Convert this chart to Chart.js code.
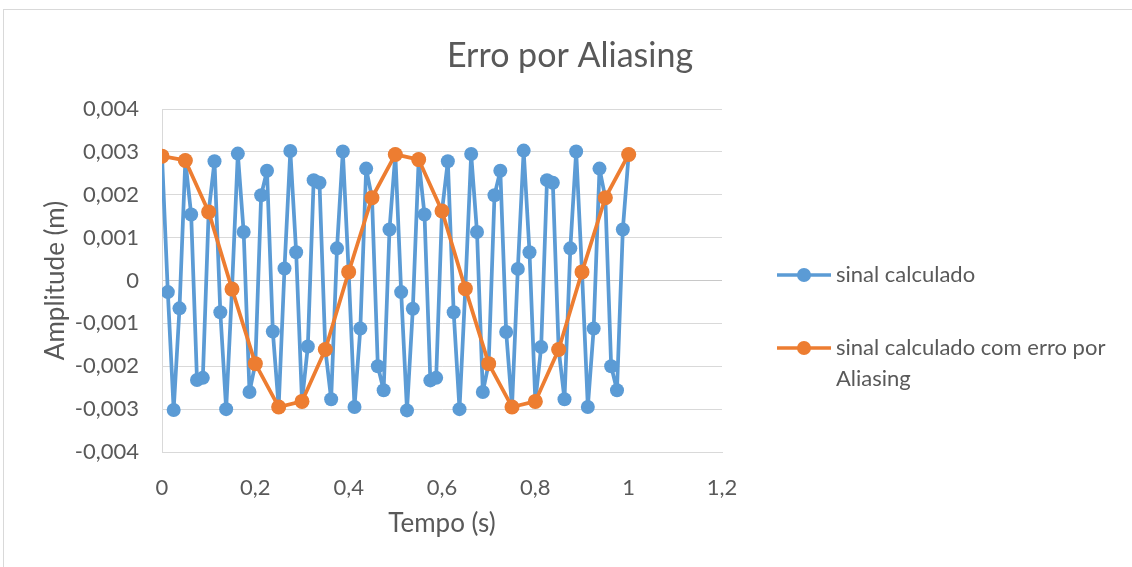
<!DOCTYPE html>
<html>
<head>
<meta charset="utf-8">
<script src="https://cdn.jsdelivr.net/npm/chart.js@4"></script>
<style>
  html, body { margin: 0; padding: 0; background: #ffffff; }
  #wrap { position: relative; width: 1132px; height: 567px; }
  canvas { display: block; }
</style>
</head>
<body>
<div id="wrap"><canvas id="c" width="1132" height="567"></canvas></div>
<script>
const chartTitle = "Erro por Aliasing";
const xAxisTitle = "Tempo (s)";
const yAxisTitle = "Amplitude (m)";
const seriesNames = ["sinal calculado", "sinal calculado com erro por Aliasing"];
const legendLines = [["sinal calculado"], ["sinal calculado com erro por", "Aliasing"]];

const timeCalc = [0,0.0125,0.025,0.0375,0.05,0.0625,0.075,0.0875,0.1,0.1125,0.125,0.1375,0.15,0.1625,0.175,0.1875,0.2,0.2125,0.225,0.2375,0.25,0.2625,0.275,0.2875,0.3,0.3125,0.325,0.3375,0.35,0.3625,0.375,0.3875,0.4,0.4125,0.425,0.4375,0.45,0.4625,0.475,0.4875,0.5,0.5125,0.525,0.5375,0.55,0.5625,0.575,0.5875,0.6,0.6125,0.625,0.6375,0.65,0.6625,0.675,0.6875,0.7,0.7125,0.725,0.7375,0.75,0.7625,0.775,0.7875,0.8,0.8125,0.825,0.8375,0.85,0.8625,0.875,0.8875,0.9,0.9125,0.925,0.9375,0.95,0.9625,0.975,0.9875,1];
const sinalCalculado = [0.0029,-0.00027,-0.00302,-0.00065,0.0028,0.00154,-0.00232,-0.00227,0.0016,0.00278,-0.00074,-0.003,-0.0002,0.00296,0.00113,-0.0026,-0.00194,0.00199,0.00256,-0.00119,-0.00295,0.00028,0.00302,0.00066,-0.00282,-0.00154,0.00234,0.00228,-0.00161,-0.00277,0.00075,0.00301,0.0002,-0.00295,-0.00112,0.00261,0.00193,-0.002,-0.00256,0.00119,0.00294,
  -0.00027,-0.00303,-0.00066,0.00282,0.00154,-0.00233,-0.00227,0.00162,0.00278,-0.00074,-0.003,-0.00019,0.00295,0.00113,-0.0026,-0.00194,0.00199,0.00256,-0.0012,-0.00295,0.00027,0.00303,0.00066,-0.00282,-0.00155,0.00234,0.00228,-0.00161,-0.00277,0.00075,0.00301,0.0002,-0.00295,-0.00112,0.00261,0.00193,-0.002,-0.00256,0.00119,0.00294];

const timeAlias = [0,0.05,0.1,0.15,0.2,0.25,0.3,0.35,0.4,0.45,0.5,0.55,0.6,0.65,0.7,0.75,0.8,0.85,0.9,0.95,1];
const sinalAliasing = [0.0029,0.0028,0.0016,-0.0002,-0.00194,-0.00295,-0.00282,-0.00161,0.0002,0.00193,0.00294,0.00282,0.00162,-0.00019,-0.00194,-0.00295,-0.00282,-0.00161,0.0002,0.00193,0.00294];

const yTicks = { min: -0.004, max: 0.004, step: 0.001 };
const xTicks = { min: 0, max: 1.2, step: 0.2 };

const BLUE = "#5B9BD5";
const ORANGE = "#ED7D31";
const TEXT = "#595959";
const GRID = "#d9d9d9";
const FONT = "Lato";

function pts(xs, ys) { return xs.map((x, i) => ({ x: x, y: ys[i] })); }

const frameTitleLegend = {
  id: "frameTitleLegend",
  beforeDraw(chart) {
    const ctx = chart.ctx;
    ctx.save();
    ctx.fillStyle = "#ffffff";
    ctx.fillRect(0, 0, chart.width, chart.height);
    ctx.strokeStyle = GRID;
    ctx.lineWidth = 1;
    ctx.strokeRect(3.5, 9.5, chart.width + 20, chart.height + 20);
    ctx.restore();
  },
  afterDraw(chart) {
    const ctx = chart.ctx;
    ctx.save();
    ctx.fillStyle = TEXT;
    ctx.font = "34px " + FONT;
    ctx.textAlign = "center";
    ctx.textBaseline = "middle";
    ctx.fillText(chartTitle, 570, 56);

    const ys = [275, 348];
    ctx.font = "22px " + FONT;
    ctx.textAlign = "left";
    chart.data.datasets.forEach((ds, k) => {
      const y = ys[k];
      ctx.strokeStyle = ds.borderColor;
      ctx.lineWidth = 3.5;
      ctx.beginPath();
      ctx.moveTo(777, y);
      ctx.lineTo(831, y);
      ctx.stroke();
      ctx.fillStyle = ds.borderColor;
      ctx.beginPath();
      ctx.arc(804, y, 7, 0, Math.PI * 2);
      ctx.fill();
      ctx.fillStyle = TEXT;
      legendLines[k].forEach((t, i) => ctx.fillText(t, 836, y + i * 31));
    });
    ctx.restore();
  }
};

new Chart(document.getElementById("c"), {
  type: "line",
  data: {
    datasets: [
      {
        label: seriesNames[0],
        data: pts(timeCalc, sinalCalculado),
        borderColor: BLUE, backgroundColor: BLUE,
        borderWidth: 3.75, borderJoinStyle: "round", borderCapStyle: "round",
        pointRadius: 7, pointBorderWidth: 0,
        pointBackgroundColor: BLUE, tension: 0, order: 2
      },
      {
        label: seriesNames[1],
        data: pts(timeAlias, sinalAliasing),
        borderColor: ORANGE, backgroundColor: ORANGE,
        borderWidth: 3.75, borderJoinStyle: "round", borderCapStyle: "round",
        pointRadius: 7.5, pointBorderWidth: 0,
        pointBackgroundColor: ORANGE, tension: 0, order: 1
      }
    ]
  },
  options: {
    responsive: false,
    animation: false,
    devicePixelRatio: 1,
    layout: { padding: { left: 0, right: 410, top: 109, bottom: 0 } },
    plugins: {
      legend: { display: false },
      tooltip: { enabled: false },
      title: { display: false }
    },
    scales: {
      x: {
        type: "linear", min: xTicks.min, max: xTicks.max,
        afterFit(s) { s.height = 115; },
        ticks: {
          stepSize: xTicks.step, color: TEXT, padding: 23,
          font: { family: FONT, size: 22 },
          maxRotation: 0, autoSkip: false,
          callback: v => String(Number(v.toFixed(1))).replace(".", ",")
        },
        grid: { display: false, drawTicks: false },
        border: { display: true, color: GRID, width: 1 },
        title: {
          display: true, text: xAxisTitle, color: TEXT,
          font: { family: FONT, size: 26 },
          padding: { top: 0, bottom: 28 }
        }
      },
      y: {
        type: "linear", min: yTicks.min, max: yTicks.max,
        afterFit(s) { s.width = 162; },
        ticks: {
          stepSize: yTicks.step, color: TEXT, padding: 23,
          font: { family: FONT, size: 22 },
          callback: v => Math.abs(v) < 1e-9 ? "0" : v.toFixed(3).replace(".", ",")
        },
        grid: {
          drawTicks: false, lineWidth: 1,
          color: c => (c.tick && Math.abs(c.tick.value) < 1e-9) ? "#c8c8c8" : GRID
        },
        border: { display: true, color: GRID, width: 1 },
        title: {
          display: true, text: yAxisTitle, color: TEXT,
          font: { family: FONT, size: 26 },
          padding: { top: 40, bottom: 0 }
        }
      }
    }
  },
  plugins: [frameTitleLegend]
});
</script>
</body>
</html>
